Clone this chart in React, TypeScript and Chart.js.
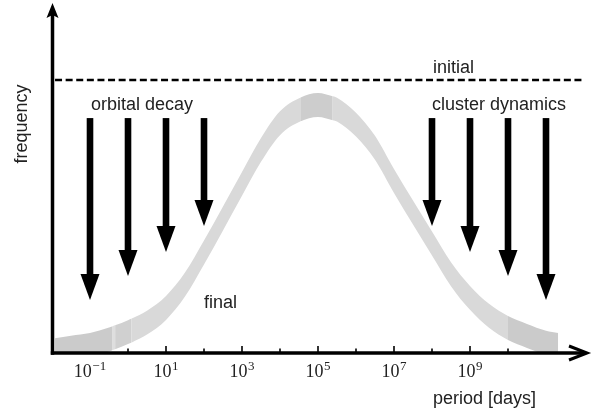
import React, { useEffect, useRef } from "react";
import { Chart, registerables } from "chart.js";

Chart.register(...registerables);

// ---- data (period axis stored as log10 of days) ----
const bandPeriodExp = [
  -1.92, -1.5, -1, -0.5, -0.42, -0.34, 0, 0.1, 0.5, 1, 1.5, 2, 2.5, 3, 3.5, 4,
  4.53, 5, 5.39, 5.5, 6, 6.5, 7, 7.5, 8, 8.5, 9, 9.5, 10, 10.5, 11, 11.32,
];
const bandUpper = [
  0.051, 0.06, 0.07, 0.09, 0.094, 0.098, 0.117, 0.123, 0.152, 0.206, 0.292, 0.41,
  0.535, 0.662, 0.787, 0.885, 0.935, 0.952, 0.94, 0.935, 0.88, 0.795, 0.673,
  0.557, 0.443, 0.33, 0.243, 0.177, 0.132, 0.103, 0.078, 0.07,
];
const bandThickness = 0.088;

const initialLevel = 1.0;
const initialSpanExp = [-1.92, 11.97];

const decayExp = [-1, 0, 1, 2];
const decayTips = [0.191, 0.279, 0.368, 0.463];
const dynamicsExp = [8, 9, 10, 11];
const dynamicsTips = [0.463, 0.368, 0.279, 0.191];
const arrowStart = 0.86;

const tickExp = [-1, 0, 1, 2, 3, 4, 5, 6, 7, 8, 9, 10, 11];
const labelExp = [-1, 1, 3, 5, 7, 9];
const xMinExp = -2;
const xMaxExp = 12;
const yMax = 1.25;

const shades = [
  { from: -99, to: -0.42, color: "#cbcbcb" },
  { from: -0.42, to: -0.34, color: "#dedede" },
  { from: -0.34, to: 0.1, color: "#d0d0d0" },
  { from: 0.1, to: 4.53, color: "#d9d9d9" },
  { from: 4.53, to: 5.39, color: "#cdcdcd" },
  { from: 5.39, to: 10, color: "#d9d9d9" },
  { from: 10, to: 99, color: "#cbcbcb" },
];

const SANS = '"Liberation Sans", Arial, Helvetica, sans-serif';
const SERIF = '"Liberation Serif", "DejaVu Serif", serif';

function shadeFor(v: number) {
  const L = Math.log10(v) + 1e-6;
  for (const s of shades) if (L >= s.from && L < s.to) return s.color;
  return "#d9d9d9";
}

const decorPlugin = {
  id: "decor",
  beforeDatasetsDraw(chart: any) {
    const { ctx, scales } = chart;
    const x = scales.x;
    const y = scales.y;
    const y0 = y.getPixelForValue(0);
    ctx.save();
    ctx.strokeStyle = "#000";
    ctx.lineWidth = 1.6;
    for (const e of tickExp) {
      const px = x.getPixelForValue(Math.pow(10, e));
      const len = labelExp.includes(e) ? 6 : 3.5;
      ctx.beginPath();
      ctx.moveTo(px, y0 + 1);
      ctx.lineTo(px, y0 - len);
      ctx.stroke();
    }
    ctx.restore();
  },
  afterDatasetsDraw(chart: any) {
    const { ctx, scales, chartArea } = chart;
    const x = scales.x;
    const y = scales.y;
    const y0 = y.getPixelForValue(0) + 1;
    const xl = chartArea.left + 0.5;
    ctx.save();
    // axes
    ctx.strokeStyle = "#000";
    ctx.fillStyle = "#000";
    ctx.lineWidth = 3.5;
    ctx.beginPath();
    ctx.moveTo(xl, y0 + 1.7);
    ctx.lineTo(xl, 14);
    ctx.stroke();
    ctx.beginPath();
    ctx.moveTo(xl - 1.7, y0);
    ctx.lineTo(chartArea.right + 2, y0);
    ctx.stroke();
    // y arrow head
    ctx.beginPath();
    ctx.moveTo(xl, 3);
    ctx.lineTo(xl + 6, 18);
    ctx.lineTo(xl, 15);
    ctx.lineTo(xl - 6, 18);
    ctx.closePath();
    ctx.fill();
    // x arrow head (chevron)
    const xr = chartArea.right + 3;
    ctx.lineWidth = 3;
    ctx.lineJoin = "miter";
    ctx.beginPath();
    ctx.moveTo(xr - 18, y0 - 7);
    ctx.lineTo(xr, y0);
    ctx.lineTo(xr - 18, y0 + 7);
    ctx.stroke();

    // down arrows
    const drawArrow = (e: number, tip: number) => {
      const px = x.getPixelForValue(Math.pow(10, e));
      const top = y.getPixelForValue(arrowStart);
      const tp = y.getPixelForValue(tip);
      const head = 26;
      ctx.fillRect(px - 3.3, top, 6.6, tp - head - top + 1);
      ctx.beginPath();
      ctx.moveTo(px - 9.5, tp - head);
      ctx.lineTo(px + 9.5, tp - head);
      ctx.lineTo(px, tp);
      ctx.closePath();
      ctx.fill();
    };
    decayExp.forEach((e, i) => drawArrow(e, decayTips[i]));
    dynamicsExp.forEach((e, i) => drawArrow(e, dynamicsTips[i]));

    // tick labels 10^n
    ctx.fillStyle = "#222";
    ctx.textBaseline = "alphabetic";
    ctx.textAlign = "left";
    for (const e of labelExp) {
      const px = x.getPixelForValue(Math.pow(10, e));
      const expText = e < 0 ? "\u2212" + Math.abs(e) : String(e);
      ctx.font = "18px " + SERIF;
      const w1 = ctx.measureText("10").width;
      ctx.font = "13px " + SERIF;
      const w2 = ctx.measureText(expText).width;
      const start = px - (w1 + w2 + 0.5) / 2;
      ctx.font = "18px " + SERIF;
      ctx.fillText("10", start, 377);
      ctx.font = "13px " + SERIF;
      ctx.fillText(expText, start + w1 + 0.5, 369.5);
    }

    // annotations
    ctx.font = "18px " + SANS;
    ctx.fillStyle = "#222";
    ctx.fillText("initial", 433, 73);
    ctx.fillText("orbital decay", 91, 110);
    ctx.fillText("cluster dynamics", 432, 110);
    ctx.fillText("final", 204, 308);
    ctx.fillText("period [days]", 433, 404);

    ctx.save();
    ctx.translate(27, 124);
    ctx.rotate(-Math.PI / 2);
    ctx.textAlign = "center";
    ctx.fillText("frequency", 0, 0);
    ctx.restore();

    ctx.restore();
  },
};

export default function App() {
  const ref = useRef<HTMLCanvasElement | null>(null);

  useEffect(() => {
    if (!ref.current) return;
    const upper = bandPeriodExp.map((e, i) => ({ x: Math.pow(10, e), y: bandUpper[i] }));
    const lower = bandPeriodExp.map((e, i) => ({ x: Math.pow(10, e), y: bandUpper[i] - bandThickness }));
    const initial = initialSpanExp.map((e) => ({ x: Math.pow(10, e), y: initialLevel }));

    const chart = new Chart(ref.current, {
      type: "line",
      data: {
        datasets: [
          {
            label: "final",
            data: upper,
            borderWidth: 0,
            borderColor: "rgba(0,0,0,0)",
            backgroundColor: "#d9d9d9",
            pointRadius: 0,
            cubicInterpolationMode: "monotone",
            fill: "+1",
            segment: {
              backgroundColor: (c: any) => shadeFor(c.p0.parsed.x),
            },
          } as any,
          {
            label: "final-lower",
            data: lower,
            borderWidth: 0,
            borderColor: "rgba(0,0,0,0)",
            pointRadius: 0,
            cubicInterpolationMode: "monotone",
            fill: false,
          } as any,
          {
            label: "initial",
            data: initial,
            borderColor: "#000",
            borderWidth: 2.6,
            borderDash: [7, 3.6],
            pointRadius: 0,
            fill: false,
            clip: false,
          } as any,
        ],
      },
      options: {
        responsive: false,
        animation: false,
        devicePixelRatio: 1,
        layout: { padding: { left: 52, right: 12, top: 12, bottom: 62 } },
        plugins: { legend: { display: false }, tooltip: { enabled: false } },
        scales: {
          x: {
            type: "logarithmic",
            min: Math.pow(10, xMinExp),
            max: Math.pow(10, xMaxExp),
            display: false,
          },
          y: { type: "linear", min: 0, max: yMax, display: false },
        },
      },
      plugins: [decorPlugin],
    });
    return () => chart.destroy();
  }, []);

  return (
    <div style={{ position: "fixed", left: 0, top: 0, width: 596, height: 414, background: "#fff" }}>
      <canvas ref={ref} width={596} height={414} style={{ width: 596, height: 414, display: "block" }} />
    </div>
  );
}
